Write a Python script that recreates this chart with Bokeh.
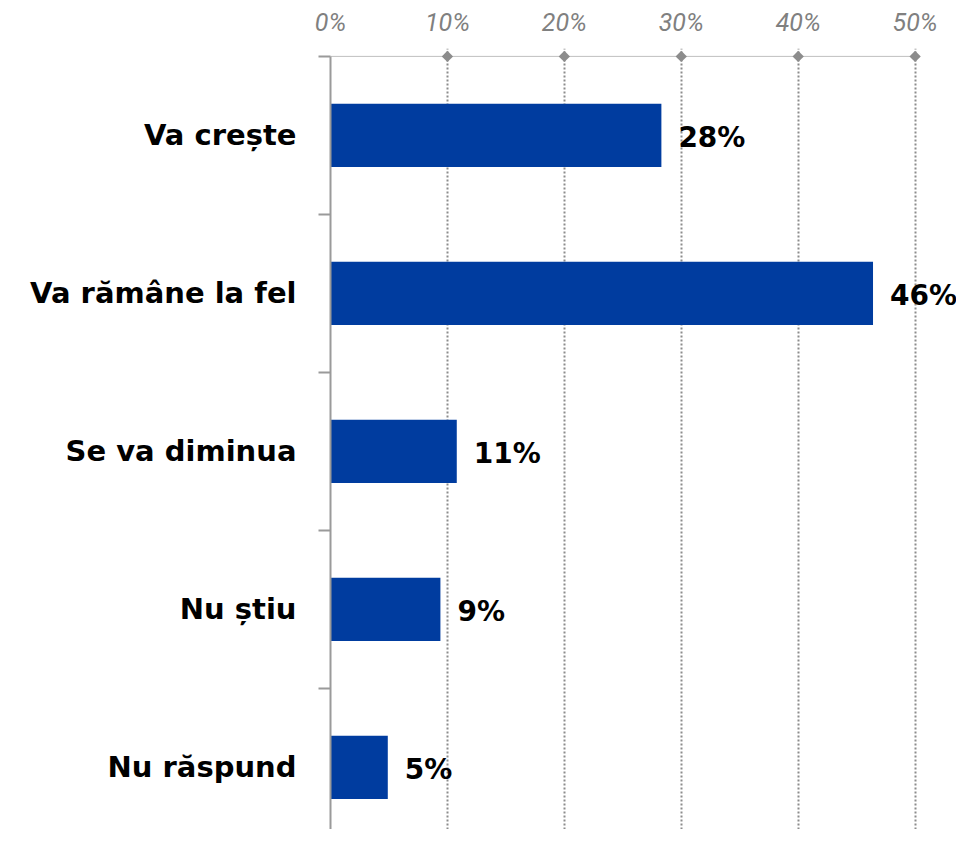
import math
from bokeh.plotting import figure
from bokeh.models import FixedTicker, Range1d, ColumnDataSource
from bokeh.core.properties import value
from bokeh.embed import file_html
from bokeh.resources import INLINE

categories = ["Va crește", "Va rămâne la fel", "Se va diminua", "Nu știu", "Nu răspund"]
values = [28.3, 46.4, 10.8, 9.4, 4.9]
value_labels = ["28%", "46%", "11%", "9%", "5%"]
x_ticks = [0, 10, 20, 30, 40, 50]
x_tick_labels = ["0%", "10%", "20%", "30%", "40%", "50%"]

n = len(categories)
ypos = [n - i - 0.5 for i in range(n)]
src = ColumnDataSource(dict(y=ypos, v=values, lab=value_labels, cat=categories))

p = figure(width=956, height=829, output_backend="svg", toolbar_location=None,
           x_range=Range1d(0, 53.54), y_range=Range1d(0.107, 5.05),
           x_axis_location="above", min_border_left=330, min_border_top=48,
           min_border_right=0, min_border_bottom=0)
p.outline_line_color = None
p.background_fill_color = "white"

p.hbar(y="y", right="v", left=0, height=0.4, source=src, color="#003C9F", line_color=None)
p.text(x="v", y="y", text="lab", source=src, x_offset=17, y_offset=2, text_baseline="middle",
       text_align="left", text_font=value("DejaVu Sans"), text_font_style="bold",
       text_font_size="28px", text_color="black")

# dotted top axis line with diamonds at the ticks
p.segment(x0=[x_ticks[0]], x1=[x_ticks[-1]], y0=[n], y1=[n], line_color="#7f7f7f",
          line_width=1, line_dash="1 1")
p.scatter(x=x_ticks[1:], y=[n] * (len(x_ticks) - 1), marker="square", size=8,
          angle=math.pi / 4, color="#8c8c8c", line_color=None)

# top x axis (labels only)
xa = p.xaxis[0]
xa.ticker = FixedTicker(ticks=x_ticks)
xa.major_label_overrides = {t: l for t, l in zip(x_ticks, x_tick_labels)}
xa.axis_line_color = None
xa.major_tick_line_color = None
xa.minor_tick_line_color = None
xa.major_tick_out = 0
xa.major_tick_in = 0
xa.minor_tick_out = 0
xa.major_label_standoff = 12
xa.major_label_text_font = "Roboto"
xa.major_label_text_font_style = "italic"
xa.major_label_text_font_size = "25px"
xa.major_label_text_color = "#808080"

# left y axis
ya = p.yaxis[0]
ya.ticker = FixedTicker(ticks=ypos, minor_ticks=list(range(n + 1)))
ya.major_label_overrides = {y: c for y, c in zip(ypos, categories)}
ya.bounds = (0, n)
ya.axis_line_color = "#9a9a9a"
ya.axis_line_width = 2
ya.major_tick_line_color = None
ya.major_tick_out = 0
ya.major_tick_in = 0
ya.minor_tick_line_color = "#9a9a9a"
ya.minor_tick_line_width = 2
ya.minor_tick_out = 12
ya.minor_tick_in = 0
ya.major_label_standoff = 22
ya.major_label_text_font = "DejaVu Sans"
ya.major_label_text_font_style = "bold"
ya.major_label_text_font_size = "29px"
ya.major_label_text_color = "black"

p.ygrid.grid_line_color = None
p.xgrid.ticker = FixedTicker(ticks=x_ticks)
p.xgrid.grid_line_color = "#8c8c8c"
p.xgrid.grid_line_dash = "2 2"
p.xgrid.grid_line_width = 2

open("out.html", "w").write(file_html(p, INLINE))
